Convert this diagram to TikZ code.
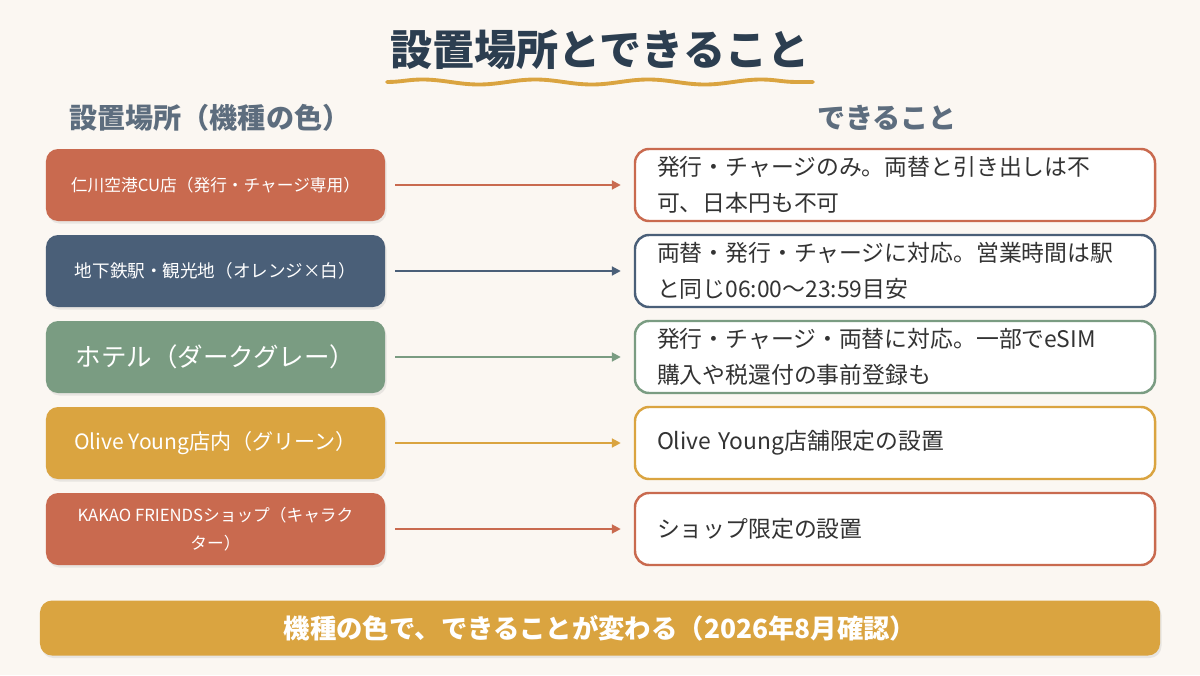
\documentclass[tikz,border=0pt]{standalone}
\usepackage{fontspec}
\setmainfont{Noto Sans CJK JP}
\usetikzlibrary{positioning, arrows.meta, decorations.pathmorphing, shadows}
\definecolor{pageBg}{RGB}{251,247,242}
\definecolor{titleInk}{RGB}{ 44, 62, 80}
\definecolor{headInk}{RGB}{ 93,109,126}
\definecolor{bodyInk}{RGB}{ 51, 51, 51}
\definecolor{terra}{RGB}{201,106, 79}
\definecolor{slate}{RGB}{ 74, 95,120}
\definecolor{sage}{RGB}{122,156,130}
\definecolor{gold}{RGB}{218,164, 64}
\tikzset{
    placebox/.style={
        rounded corners=2.4mm, fill=#1, draw=none,
        minimum width=67.8mm, minimum height=14.4mm,
        inner sep=2pt, text=white, align=center,
        drop shadow={opacity=0.15, shadow xshift=0.3mm, shadow yshift=-0.5mm},
    },
    featbox/.style={
        rounded corners=2.8mm, draw=#1, fill=white, line width=1.4pt,
        minimum width=104mm, minimum height=14.4mm,
        inner xsep=4.4mm, text width=95.2mm, align=left,
        font=\fontsize{13}{20.5}\selectfont, text=bodyInk,
    },
    arr/.style={
        draw=#1, line width=1.1pt,
        -{Triangle[length=5pt, width=5pt]},
        shorten <=2mm, shorten >=2.6mm,
    },
    colhead/.style={
        font=\bfseries\fontsize{16}{19}\selectfont, text=headInk,
    },
    wave/.style={
        draw=gold, line width=2.2pt, line cap=round,
        decorate, decoration={snake, segment length=22.6mm, amplitude=0.5mm},
    },
    banner/.style={
        rounded corners=2.4mm, fill=gold, draw=none,
        minimum width=224mm, minimum height=11mm,
        text=white, font=\bfseries\fontsize{15}{18}\selectfont,
        drop shadow={opacity=0.15, shadow xshift=0.3mm, shadow yshift=-0.5mm},
    },
}

\begin{document}
\begin{tikzpicture}[x=0.2mm, y=-0.2mm]

% ============================================================
%   Page
% ============================================================
\fill[pageBg] (0,0) rectangle (1200,675);
\useasboundingbox (0,0) rectangle (1200,675);

% ============================================================
%   Title block
% ============================================================
\node[font=\bfseries\fontsize{24}{28}\selectfont, text=titleInk]
    (ttl) at (600,50) {設置場所とできること};
\coordinate (wl) at (387,82);
\coordinate (wr) at (813,82);
\draw[wave] (wl) -- (wr);

\node[colhead, anchor=west] (hl) at (63,118) {設置場所（機種の色）};
\node[colhead] (hr) at (887,118) {できること};

% ============================================================
%   Left column: places (filled in the machine colour)
% ============================================================
\node[placebox=terra, font=\fontsize{9.5}{12}\selectfont]
    (L1) at (215.5,185) {仁川空港CU店（発行・チャージ専用）};
\node[placebox=slate, font=\fontsize{10}{12}\selectfont]
    (L2) at (215.5,271) {地下鉄駅・観光地（オレンジ×白）};
\node[placebox=sage, font=\fontsize{14.5}{17}\selectfont]
    (L3) at (215.5,357) {ホテル（ダークグレー）};
\node[placebox=gold, font=\fontsize{12}{14}\selectfont]
    (L4) at (215.5,443) {Olive Young店内（グリーン）};
\node[placebox=terra, font=\fontsize{9.5}{16}\selectfont]
    (L5) at (215.5,529) {KAKAO FRIENDSショップ（キャラク\\ター）};

% ============================================================
%   Right column: what each machine can do
% ============================================================
\node[featbox=terra] (R1) at (895,185)
    {発行・チャージのみ。両替と引き出しは不\\可、日本円も不可};
\node[featbox=slate] (R2) at (895,271)
    {両替・発行・チャージに対応。営業時間は駅\\と同じ06:00～23:59目安};
\node[featbox=sage]  (R3) at (895,357)
    {発行・チャージ・両替に対応。一部でeSIM\\購入や税還付の事前登録も};
\node[featbox=gold]  (R4) at (895,443) {Olive Young店舗限定の設置};
\node[featbox=terra] (R5) at (895,529) {ショップ限定の設置};

% --- place -> feature -----------------------------------------
\draw[arr=terra] (L1) -- (R1);
\draw[arr=slate] (L2) -- (R2);
\draw[arr=sage]  (L3) -- (R3);
\draw[arr=gold]  (L4) -- (R4);
\draw[arr=terra] (L5) -- (R5);

% ============================================================
%   Bottom note
% ============================================================
\node[banner] (note) at (600,628)
    {機種の色で、できることが変わる（2026年8月確認）};

\end{tikzpicture}
\end{document}
